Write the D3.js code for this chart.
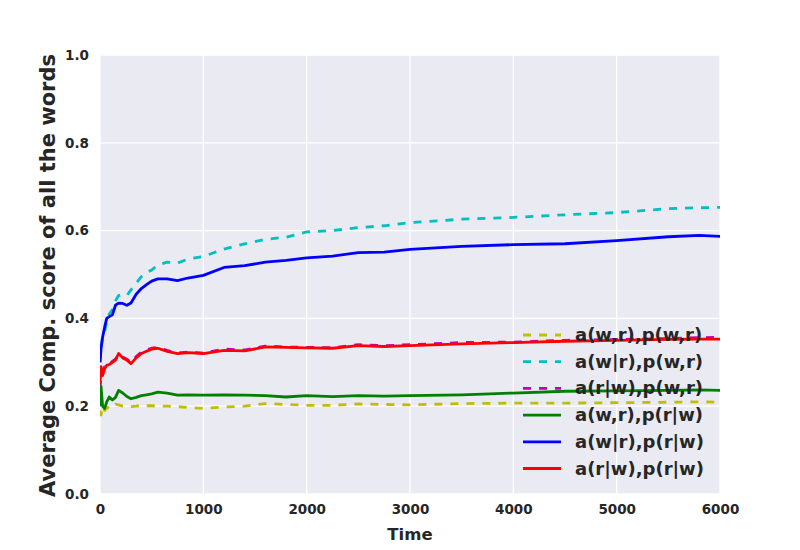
<!DOCTYPE html>
<html><head><meta charset="utf-8">
<script src="https://cdn.jsdelivr.net/npm/d3@7"></script>
<style>body{margin:0;background:#fff}svg{display:block}text{font-family:"DejaVu Sans",sans-serif;font-weight:bold;fill:#262626}</style>
</head><body><svg id="c" width="800" height="550"></svg>
<script>
const times = [0,10,25,45,65,90,120,150,180,220,260,300,350,400,450,500,560,650,750,850,1000,1200,1400,1600,1800,2000,2250,2500,2750,3000,3500,4000,4500,5000,5500,5800,6000];
const aWR_pWR = [0.19,0.18,0.2,0.19,0.195,0.2,0.198,0.205,0.203,0.2,0.2,0.199,0.2,0.202,0.201,0.201,0.2,0.2,0.199,0.197,0.195,0.198,0.2,0.206,0.204,0.202,0.202,0.205,0.204,0.203,0.206,0.207,0.207,0.208,0.209,0.21,0.209];
const aWgR_pWR = [0.3,0.33,0.36,0.37,0.395,0.41,0.42,0.44,0.452,0.455,0.452,0.465,0.48,0.495,0.505,0.51,0.522,0.528,0.526,0.535,0.541,0.558,0.57,0.58,0.585,0.597,0.6,0.607,0.611,0.618,0.626,0.63,0.636,0.641,0.65,0.652,0.653];
const aRgW_pWR = [0.24,0.28,0.28,0.29,0.29,0.297,0.302,0.307,0.318,0.312,0.307,0.3,0.313,0.323,0.328,0.332,0.334,0.327,0.321,0.323,0.321,0.33,0.328,0.337,0.335,0.334,0.333,0.34,0.338,0.34,0.345,0.346,0.35,0.352,0.354,0.356,0.357];
const aWR_pRgW = [0.2,0.245,0.2,0.195,0.21,0.221,0.214,0.22,0.236,0.23,0.222,0.217,0.22,0.224,0.226,0.228,0.232,0.23,0.225,0.226,0.225,0.226,0.225,0.224,0.221,0.224,0.222,0.224,0.223,0.224,0.226,0.23,0.234,0.235,0.236,0.237,0.236];
const aWgR_pRgW = [0.3,0.33,0.357,0.38,0.4,0.404,0.408,0.43,0.435,0.434,0.43,0.435,0.455,0.468,0.477,0.485,0.49,0.49,0.486,0.492,0.498,0.516,0.52,0.528,0.532,0.538,0.542,0.55,0.551,0.557,0.564,0.568,0.57,0.577,0.586,0.589,0.587];
const aRgW_pRgW = [0.25,0.29,0.27,0.285,0.293,0.295,0.3,0.305,0.32,0.31,0.305,0.297,0.31,0.32,0.325,0.33,0.332,0.325,0.32,0.322,0.32,0.327,0.326,0.335,0.334,0.333,0.332,0.338,0.336,0.338,0.342,0.345,0.348,0.35,0.352,0.353,0.353];
const seriesNames = ["a(w,r),p(w,r)","a(w|r),p(w,r)","a(r|w),p(w,r)","a(w,r),p(r|w)","a(w|r),p(r|w)","a(r|w),p(r|w)"];
const seriesValues = [aWR_pWR,aWgR_pWR,aRgW_pWR,aWR_pRgW,aWgR_pRgW,aRgW_pRgW];
const seriesColors = ["#bfbf00","#00bfbf","#bf00bf","#008000","#0000ff","#ff0000"];
const seriesDashed = [true,true,true,false,false,false];
const xTicks = [0,1000,2000,3000,4000,5000,6000];
const yTicks = [0,0.2,0.4,0.6,0.8,1.0];

const svg = d3.select("#c");
const L=100,R=720,T=55,B=494;
const x = d3.scaleLinear().domain([0,6000]).range([L,R]);
const y = d3.scaleLinear().domain([0,1]).range([B,T]);

svg.append("rect").attr("x",L).attr("y",T).attr("width",R-L).attr("height",B-T).attr("fill","#EAEAF2");
const g = svg.append("g");
g.selectAll(".vg").data(xTicks).join("line").attr("x1",d=>x(d)).attr("x2",d=>x(d)).attr("y1",T).attr("y2",B).attr("stroke","#fff").attr("stroke-width",1.3);
g.selectAll(".hg").data(yTicks).join("line").attr("y1",d=>y(d)).attr("y2",d=>y(d)).attr("x1",L).attr("x2",R).attr("stroke","#fff").attr("stroke-width",1.3);

const xa = svg.append("g").attr("transform",`translate(0,${B})`).call(d3.axisBottom(x).tickValues(xTicks).tickFormat(d3.format("d")).tickSize(0).tickPadding(10));
xa.select(".domain").remove();
xa.selectAll("text").attr("font-size",13.5).style("font-family","DejaVu Sans").style("font-weight","bold").attr("fill","#262626");
const ya = svg.append("g").attr("transform",`translate(${L},0)`).call(d3.axisLeft(y).tickValues(yTicks).tickFormat(d3.format(".1f")).tickSize(0).tickPadding(11));
ya.select(".domain").remove();
ya.selectAll("text").attr("font-size",13.5).style("font-family","DejaVu Sans").style("font-weight","bold").attr("fill","#262626");

svg.append("clipPath").attr("id","pc").append("rect").attr("x",L).attr("y",T).attr("width",R-L).attr("height",B-T);
const line = d3.line().x((d,i)=>x(times[i])).y(d=>y(d));
const lg = svg.append("g").attr("clip-path","url(#pc)");
seriesValues.forEach((vals,k)=>{
  lg.append("path").attr("d",line(vals)).attr("fill","none").attr("stroke",seriesColors[k]).attr("stroke-width",2.8)
    .attr("stroke-linejoin","round").attr("stroke-dasharray",seriesDashed[k]?"8,8":null);
});

svg.append("text").attr("x",(L+R)/2).attr("y",540).attr("text-anchor","middle").attr("font-size",16.5).text("Time");
svg.append("text").attr("transform",`translate(55,${(T+B)/2+1}) rotate(-90)`).attr("text-anchor","middle").attr("font-size",21).text("Average Comp. score of all the words");

const leg = svg.append("g");
seriesNames.forEach((n,k)=>{
  const yy = 335 + k*26.7;
  leg.append("line").attr("x1",523).attr("x2",561).attr("y1",yy).attr("y2",yy).attr("stroke",seriesColors[k]).attr("stroke-width",2.8).attr("stroke-dasharray",seriesDashed[k]?"8,8":null);
  leg.append("text").attr("x",575).attr("y",yy+6).attr("font-size",18).text(n);
});
</script></body></html>
